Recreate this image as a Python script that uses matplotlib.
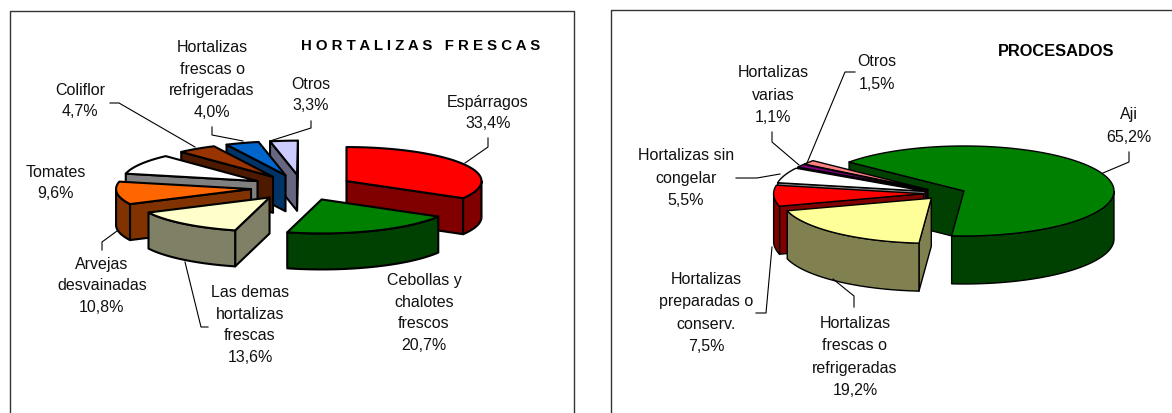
import numpy as np
import matplotlib
matplotlib.use('Agg')
import matplotlib.pyplot as plt
from matplotlib.patches import Polygon

plt.rcParams['font.family'] = ['Liberation Sans', 'DejaVu Sans']

# left chart
fresh_names = ['Espárragos', 'Cebollas y\nchalotes\nfrescos', 'Las demas\nhortalizas\nfrescas',
               'Arvejas\ndesvainadas', 'Tomates', 'Coliflor',
               'Hortalizas\nfrescas o\nrefrigeradas', 'Otros']
fresh_values = [33.4, 20.7, 13.6, 10.8, 9.6, 4.7, 4.0, 3.3]
fresh_top = ['#FF0000', '#008000', '#FFFFCC', '#FF6600', '#FFFFFF', '#993300', '#0066CC', '#CCCCFF']
fresh_side = ['#800000', '#004000', '#808066', '#803300', '#808080', '#4D1A00', '#003366', '#666680']
fresh_label_xy = [(488, 113), (424, 313), (250, 325), (102, 286), (56, 183), (80, 101), (212, 80), (311, 95)]
fresh_leaders = [[(488, 138), (488, 147), (465, 163)],
                 [(208, 327), (201, 327), (185, 262)],
                 [(102, 250), (102, 242), (117, 231)],
                 [(110, 103), (119, 103), (195, 147)],
                 [(212, 127), (212, 135), (243, 141)],
                 [(311, 121), (311, 128), (270, 141)]]

# right chart
proc_names = ['Aji', 'Hortalizas\nfrescas o\nrefrigeradas', 'Hortalizas\npreparadas o\nconserv.',
              'Hortalizas sin\ncongelar', 'Hortalizas\nvarias', 'Otros']
proc_values = [65.2, 19.2, 7.5, 5.5, 1.1, 1.5]
proc_top = ['#008000', '#FFFF99', '#FF0000', '#FFFFFF', '#800080', '#FF8080']
proc_side = ['#004000', '#808050', '#800000', '#808080', '#400040', '#804040']
proc_label_xy = [(1129, 126), (855, 357), (706, 313), (686, 178), (773, 95), (877, 73)]
proc_leaders = [[(1129, 152), (1129, 162), (1103, 173)],
                [(854, 307), (854, 296), (833, 279)],
                [(756, 313), (766, 313), (772, 247)],
                [(736, 178), (757, 178), (780, 174)],
                [(772, 132), (772, 142), (799, 165)],
                [(855, 72), (845, 72), (807, 163)]]


def pie3d(ax, values, top, side, cx, cy, rx, ry, depth, start, explode, lw):
    # every wedge is a prism: cut faces, then the outer wall, then the top
    angles = start - np.cumsum([0] + list(values)) * 3.6
    wedges = []
    for i in range(len(values)):
        a1, a2 = angles[i], angles[i + 1]
        mid = np.radians((a1 + a2) / 2)
        key = 2 if a1 - a2 > 180 else np.sin(mid)
        wedges.append((key, i, a1, a2, mid))
    wedges.sort(key=lambda w: -w[0])

    for key, i, a1, a2, mid in wedges:
        ax0 = cx + explode * rx * np.cos(mid)
        ay0 = cy - explode * ry * np.sin(mid)
        t = np.radians(np.linspace(a1, a2, 200))
        xs = ax0 + rx * np.cos(t)
        ys = ay0 - ry * np.sin(t)

        # back cut face goes first, front one is drawn after it
        for ang, normal in [(a1, a1 + 90), (a2, a2 - 90)]:
            if np.sin(np.radians(normal)) < 0:
                ex = ax0 + rx * np.cos(np.radians(ang))
                ey = ay0 - ry * np.sin(np.radians(ang))
                face = [(ax0, ay0), (ex, ey), (ex, ey + depth), (ax0, ay0 + depth)]
                ax.add_patch(Polygon(face, fc=side[i], ec='black', lw=lw, joinstyle='round'))

        front = np.sin(t) <= 0
        if front.sum() > 1:
            wall = list(zip(xs[front], ys[front])) + list(zip(xs[front][::-1], ys[front][::-1] + depth))
            ax.add_patch(Polygon(wall, fc=side[i], ec='black', lw=lw, joinstyle='round'))

        outline = [(ax0, ay0)] + list(zip(xs, ys))
        ax.add_patch(Polygon(outline, fc=top[i], ec='black', lw=lw, joinstyle='round'))


def put_labels(ax, names, values, positions, leaders, size, spacing):
    for leader in leaders:
        ax.plot([p[0] for p in leader], [p[1] for p in leader], color='black', lw=0.8)
    for name, val, pos in zip(names, values, positions):
        txt = name + '\n' + f'{val:.1f}'.replace('.', ',') + '%'
        ax.text(pos[0], pos[1], txt, ha='center', va='center', fontsize=size,
                linespacing=spacing, color='#111111')


fig = plt.figure(figsize=(11.72, 4.13), dpi=100)
ax = fig.add_axes([0, 0, 1, 1])
ax.set_xlim(0, 1172)
ax.set_ylim(413, 0)
ax.axis('off')

# frames, both are cut by the picture edge
ax.plot([9.5, 9.5, 574, 574], [413, 11, 11, 413], color='#333333', lw=1)
ax.plot([610.5, 610.5, 1172], [413, 10, 10], color='#333333', lw=1)

pie3d(ax, fresh_values, fresh_top, fresh_side, 302, 187.5, 135, 34, 36, 90, 0.38, 1.5)
pie3d(ax, proc_values, proc_top, proc_side, 944.6, 193.4, 150, 45, 48, 140, 0.14, 1.0)

put_labels(ax, fresh_names, fresh_values, fresh_label_xy, fresh_leaders, 11.5, 1.53)
put_labels(ax, proc_names, proc_values, proc_label_xy, proc_leaders, 11.5, 1.62)

ax.text(420.5, 46, 'H O R T A L I Z A S   F R E S C A S', ha='center', va='center',
        fontsize=10.8, fontweight='bold')
ax.text(1056, 52, 'PROCESADOS', ha='center', va='center', fontsize=11.8, fontweight='bold')

fig.savefig('out.png', dpi=100)
